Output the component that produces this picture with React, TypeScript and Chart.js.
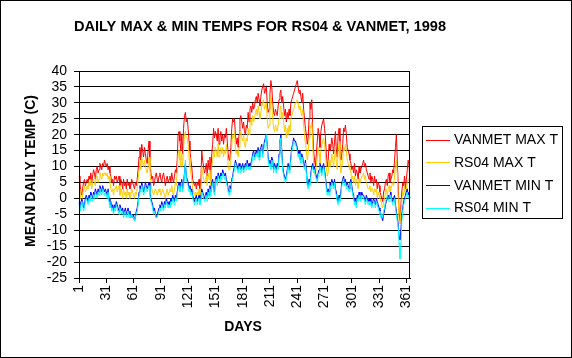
import { useEffect, useRef } from "react";
import { Chart, registerables } from "chart.js";

Chart.register(...registerables);

const TITLE = "DAILY MAX & MIN TEMPS FOR RS04 & VANMET, 1998";
const Y_TITLE = "MEAN DAILY TEMP (C)";
const X_TITLE = "DAYS";
const DAYS: string[] = Array.from({ length: 365 }, (_, i) => String(i + 1));
const X_TICK_LABELS = ["1", "31", "61", "91", "121", "151", "181", "211", "241", "271", "301", "331", "361"];
const Y_MIN = -25;
const Y_MAX = 40;
const Y_STEP = 5;

const SERIES_NAMES = ["VANMET MAX T", "RS04 MAX T", "VANMET MIN T", "RS04 MIN T"];
const SERIES_COLORS = ["#FF0000", "#FFCC00", "#0000FF", "#00FFFF"];

const vanmetMax = [
  7, 5, 2, 1, 3, 5, 6, 4, 5, 6,
  5, 7, 6, 8, 5, 7, 9, 8, 6, 9,
  10, 8, 9, 11, 10, 9, 11, 10, 12, 11,
  10, 11, 9, 10, 8, 7, 5, 6, 4, 7,
  6, 7, 5, 6, 7, 4, 6, 5, 3, 6,
  4, 5, 3, 6, 4, 5, 3, 4, 6, 5,
  4, 3, 5, 4, 6, 9, 13, 16, 12, 17,
  15, 13, 16, 14, 12, 11, 15, 18, 12, 8,
  6, 7, 4, 5, 7, 8, 6, 5, 7, 8,
  6, 5, 7, 8, 6, 4, 6, 7, 5, 6,
  7, 5, 8, 6, 5, 7, 9, 8, 12, 20,
  21, 18, 15, 20, 14, 22, 26, 27, 24, 25,
  22, 18, 15, 12, 10, 6, 5, 4, 5, 3,
  5, 4, 6, 3, 5, 15, 12, 10, 8, 9,
  11, 7, 12, 9, 13, 6, 14, 17, 22, 19,
  21, 20, 18, 22, 17, 19, 21, 18, 20, 17,
  20, 19, 22, 18, 14, 12, 13, 16, 22, 25,
  24, 25, 20, 17, 19, 16, 20, 25, 26, 24,
  22, 24, 21, 20, 23, 22, 27, 24, 28, 29,
  27, 30, 28, 29, 31, 32, 30, 33, 31, 29,
  32, 34, 35, 36, 33, 34, 35, 30, 27, 28,
  33, 37, 35, 30, 27, 26, 28, 27, 26, 29,
  31, 33, 34, 30, 32, 29, 26, 28, 24, 27,
  25, 28, 26, 30, 31, 32, 33, 34, 35, 36,
  37, 35, 33, 34, 32, 30, 33, 28, 25, 22,
  20, 17, 19, 25, 30, 28, 31, 22, 15, 12,
  10, 14, 18, 22, 20, 16, 21, 23, 24, 25,
  22, 19, 14, 10, 12, 17, 15, 16, 19, 17,
  14, 18, 21, 15, 13, 20, 22, 18, 12, 14,
  17, 22, 21, 23, 20, 16, 15, 14, 12, 11,
  9, 10, 8, 11, 7, 9, 8, 6, 10, 8,
  9, 10, 11, 12, 10, 11, 9, 8, 7, 6,
  8, 5, 7, 6, 4, 7, 5, 6, 3, 5,
  4, 2, 1, 0, -1, 2, 3, 5, 6, 4,
  7, 8, 5, 6, 7, 9, 8, 12, 16, 20,
  12, 4, -5, -7, -2, 2, 5, 4, 7, 3,
  6, 9, 12, 10, 5,
];

const rs04Max = [
  3, 2, 0, -1, 1, 3, 4, 2, 3, 4,
  3, 5, 4, 6, 3, 5, 6, 5, 4, 7,
  7, 5, 6, 8, 7, 6, 8, 7, 8, 8,
  7, 8, 6, 7, 5, 3, 2, 3, 1, 3,
  3, 4, 2, 3, 4, 1, 3, 2, 0, 3,
  1, 2, 0, 3, 1, 2, 0, 1, 3, 2,
  1, 0, 2, 1, 3, 6, 9, 12, 9, 13,
  11, 10, 12, 10, 9, 8, 10, 13, 9, 5,
  3, 2, 1, 2, 3, 2, 1, 2, 3, 2,
  1, 2, 3, 2, 1, 0, 2, 3, 1, 2,
  3, 2, 4, 2, 1, 3, 5, 4, 8, 14,
  15, 12, 10, 14, 10, 16, 20, 21, 19, 19,
  17, 13, 10, 8, 6, 3, 2, 1, 2, 1,
  2, 1, 3, 1, 2, 10, 8, 6, 5, 6,
  7, 4, 8, 6, 9, 4, 10, 12, 15, 13,
  16, 15, 13, 17, 13, 15, 16, 14, 16, 13,
  15, 14, 17, 14, 10, 9, 10, 12, 17, 20,
  19, 21, 16, 14, 15, 13, 16, 20, 21, 19,
  18, 20, 17, 16, 19, 18, 22, 20, 24, 25,
  23, 26, 24, 25, 27, 28, 26, 29, 27, 25,
  27, 29, 30, 31, 28, 29, 30, 25, 22, 23,
  28, 32, 30, 25, 22, 21, 23, 22, 21, 23,
  25, 28, 29, 25, 27, 24, 21, 23, 19, 22,
  20, 23, 21, 25, 26, 27, 28, 29, 30, 30,
  31, 30, 28, 29, 27, 26, 28, 23, 20, 17,
  15, 12, 14, 19, 23, 22, 24, 17, 11, 8,
  7, 10, 13, 16, 14, 11, 15, 17, 18, 19,
  17, 14, 10, 7, 8, 12, 10, 11, 14, 12,
  10, 13, 16, 11, 9, 15, 17, 13, 8, 10,
  12, 16, 15, 17, 15, 12, 11, 10, 9, 8,
  6, 7, 5, 7, 4, 6, 5, 3, 6, 5,
  6, 7, 7, 8, 6, 7, 5, 4, 3, 3,
  4, 2, 3, 3, 1, 3, 2, 3, 0, 2,
  1, 0, -1, -2, -3, -1, 0, 2, 3, 1,
  3, 4, 2, 3, 4, 5, 4, 7, 10, 12,
  8, 0, -7, -8, -4, -1, 2, 1, 4, 1,
  3, 5, 6, 6, 2,
];

const vanmetMin = [
  -1, -3, -2, 0, -1, -3, -2, 0, 1, 0,
  -1, 1, 0, 2, 1, 0, 2, 1, 3, 2,
  1, 3, 2, 4, 3, 2, 4, 3, 2, 3,
  2, 1, 3, 0, -2, -1, -3, -2, -4, -2,
  -3, -1, -2, -3, -4, -2, -3, -4, -3, -5,
  -4, -3, -5, -4, -3, -5, -4, -6, -5, -6,
  -5, -7, -6, -4, -3, -1, 2, 4, 3, 5,
  4, 2, 3, 5, 4, 3, 4, 5, 2, 0,
  -1, -2, -4, -3, -5, -6, -5, -4, -3, -2,
  -3, -1, -2, -3, -1, -2, 0, -1, -2, -1,
  -2, 0, -1, 1, 0, -1, 1, 0, 2, 4,
  5, 3, 4, 6, 3, 5, 8, 11, 7, 6,
  5, 3, 4, 2, 3, 1, 0, -1, 0, 1,
  -1, 0, 1, -1, 0, 3, 2, 1, 0, 1,
  2, 0, 3, 1, 4, 2, 5, 6, 3, 2,
  6, 7, 5, 8, 7, 6, 8, 7, 9, 8,
  7, 8, 6, 5, 3, 2, 4, 3, 6, 7,
  9, 10, 12, 11, 10, 9, 11, 10, 9, 10,
  11, 9, 10, 11, 10, 12, 10, 11, 10, 11,
  12, 14, 15, 13, 14, 15, 14, 16, 13, 15,
  16, 17, 14, 16, 18, 19, 20, 17, 13, 11,
  12, 10, 13, 12, 9, 11, 10, 9, 11, 10,
  14, 18, 20, 15, 10, 8, 7, 6, 7, 9,
  11, 9, 10, 13, 16, 17, 19, 18, 18, 17,
  16, 14, 15, 13, 12, 14, 13, 11, 10, 12,
  9, 5, 4, 6, 5, 8, 10, 11, 9, 10,
  8, 7, 6, 8, 9, 11, 10, 8, 10, 11,
  9, 7, 4, 2, 3, 2, 5, 4, 6, 5,
  4, 6, 3, 2, 0, -1, 1, 0, 2, 5,
  6, 7, 5, 6, 4, 5, 4, 3, 5, 6,
  4, 2, 1, -1, 0, -2, 1, 0, 2, 1,
  0, 2, 1, 1, 0, -1, 1, 0, -1, 0,
  -1, 0, -2, -1, 0, -1, -2, 0, -1, -2,
  -3, -4, -5, -6, -7, -5, -4, -2, -1, 0,
  1, 0, 1, 2, 0, -1, 0, 1, -2, -4,
  -6, -8, -12, -13, -10, -5, -3, -1, 0, 1,
  2, 3, 1, 2, 0,
];

const rs04Min = [
  -2, -4, -3, -1, -2, -4, -3, -1, 0, -1,
  -2, 0, -1, 1, 0, -1, 1, 0, 2, 1,
  0, 2, 1, 3, 2, 1, 3, 2, 1, 2,
  1, 0, 2, -1, -3, -2, -4, -3, -5, -3,
  -4, -2, -3, -4, -5, -3, -4, -5, -4, -6,
  -5, -4, -6, -5, -4, -6, -5, -6, -5, -6,
  -6, -7, -6, -5, -4, -2, 1, 3, 2, 4,
  3, 1, 2, 4, 3, 2, 3, 4, 1, -1,
  -2, -3, -5, -4, -5, -6, -6, -5, -4, -3,
  -4, -2, -3, -4, -2, -3, -1, -2, -3, -2,
  -3, -1, -2, 0, -1, -2, 0, -1, 1, 3,
  4, 2, 3, 5, 2, 4, 7, 12, 6, 5,
  4, 2, 3, 1, 2, 0, -1, -2, -1, 0,
  -2, -1, 0, -2, -1, 2, 1, 0, -1, 0,
  1, -1, 2, 0, 3, 1, 4, 5, 2, 1,
  5, 6, 4, 7, 6, 5, 7, 6, 8, 7,
  6, 7, 5, 4, 2, 1, 3, 2, 5, 6,
  8, 9, 11, 10, 9, 8, 10, 9, 8, 9,
  10, 8, 9, 10, 9, 11, 9, 10, 9, 10,
  11, 13, 14, 12, 13, 14, 13, 15, 12, 14,
  15, 16, 13, 15, 17, 18, 20, 16, 12, 10,
  11, 9, 12, 11, 8, 10, 9, 8, 10, 9,
  13, 17, 19, 14, 9, 7, 6, 5, 6, 8,
  10, 8, 9, 12, 15, 16, 18, 17, 17, 16,
  15, 13, 14, 12, 11, 13, 12, 10, 9, 11,
  8, 4, 3, 5, 4, 7, 9, 10, 8, 9,
  7, 6, 5, 7, 8, 10, 9, 7, 9, 10,
  8, 6, 3, 1, 2, 1, 4, 3, 5, 4,
  3, 5, 2, 1, -1, -2, 0, -1, 1, 4,
  5, 6, 4, 5, 3, 4, 3, 2, 4, 5,
  3, 1, 0, -2, -1, -3, 0, -1, 1, 0,
  -1, 1, 0, 0, -1, -2, 0, -1, -2, -1,
  -2, -1, -3, -2, -1, -2, -3, -1, -2, -3,
  -4, -5, -6, -5, -6, -4, -3, -1, 0, 1,
  0, -1, 0, 1, -1, -2, -1, 0, -3, -5,
  -7, -9, -14, -19, -15, -7, -4, -2, -1, 0,
  1, 2, 0, 1, -1,
];

const SERIES_DATA = [vanmetMax, rs04Max, vanmetMin, rs04Min];

const FONT = "'Liberation Sans', Arial, sans-serif";

const decorPlugin = {
  id: "decor",
  beforeDraw(chart: any) {
    const ctx = chart.ctx;
    ctx.save();
    ctx.fillStyle = "#ffffff";
    ctx.fillRect(0, 0, chart.width, chart.height);
    ctx.restore();
  },
  afterDraw(chart: any) {
    const ctx = chart.ctx;
    const a = chart.chartArea;
    ctx.save();
    ctx.strokeStyle = "#000000";
    ctx.lineWidth = 1;
    ctx.strokeRect(Math.round(a.left) + 0.5, Math.round(a.top) + 0.5, Math.round(a.right - a.left) - 1, Math.round(a.bottom - a.top));
    ctx.strokeRect(0.5, 0.5, chart.width - 1, chart.height - 1);

    ctx.fillStyle = "#000000";
    ctx.textAlign = "center";
    ctx.textBaseline = "middle";
    ctx.font = `bold 14.6px ${FONT}`;
    ctx.fillText(TITLE, 260, 27);
    ctx.font = `bold 14px ${FONT}`;
    ctx.fillText(X_TITLE, 243, 327);
    ctx.save();
    ctx.translate(31, 171);
    ctx.rotate(-Math.PI / 2);
    ctx.fillText(Y_TITLE, 0, 0);
    ctx.restore();

    const lx = 422, ly = 126, lw = 140, lh = 92;
    ctx.strokeRect(lx + 0.5, ly + 0.5, lw, lh);
    ctx.font = `14px ${FONT}`;
    ctx.textAlign = "left";
    SERIES_NAMES.forEach((name, i) => {
      const y = ly + 13.5 + i * 22.7;
      ctx.strokeStyle = SERIES_COLORS[i];
      ctx.beginPath();
      ctx.moveTo(lx + 4, Math.round(y) + 0.5);
      ctx.lineTo(lx + 28, Math.round(y) + 0.5);
      ctx.stroke();
      ctx.fillStyle = "#000000";
      ctx.fillText(name, lx + 32, y + 1);
    });
    ctx.restore();
  },
};

export default function App() {
  const ref = useRef<HTMLCanvasElement | null>(null);
  useEffect(() => {
    if (!ref.current) return;
    const chart = new Chart(ref.current, {
      type: "line",
      data: {
        labels: DAYS,
        datasets: SERIES_NAMES.map((name, i) => ({
          label: name,
          data: SERIES_DATA[i],
          borderColor: SERIES_COLORS[i],
          backgroundColor: SERIES_COLORS[i],
          borderWidth: 1,
          pointRadius: 0,
          tension: 0,
          fill: false,
          order: 4 - i,
        })),
      },
      options: {
        animation: false,
        responsive: false,
        devicePixelRatio: 1,
        layout: { padding: { left: 0, top: 71, right: 162, bottom: 0 } },
        plugins: {
          legend: { display: false },
          title: { display: false },
          tooltip: { enabled: false },
        },
        scales: {
          x: {
            type: "category",
            offset: false,
            afterFit: (s: any) => {
              s.height = 80;
            },
            grid: {
              drawOnChartArea: false,
              drawTicks: true,
              tickLength: 5,
              color: "#000000",
            },
            border: { display: true, color: "#000000" },
            ticks: {
              autoSkip: false,
              maxRotation: 90,
              minRotation: 90,
              padding: 2,
              color: "#000000",
              font: { family: FONT, size: 14 },
              callback: (_v: any, idx: number) => {
                const lab = DAYS[idx];
                return X_TICK_LABELS.includes(lab) ? lab : null;
              },
            },
          },
          y: {
            min: Y_MIN,
            max: Y_MAX,
            afterFit: (s: any) => {
              s.width = 79;
            },
            grid: {
              color: "#000000",
              drawTicks: true,
              tickLength: 5,
            },
            border: { display: true, color: "#000000" },
            ticks: {
              stepSize: Y_STEP,
              autoSkip: false,
              padding: 7,
              color: "#000000",
              font: { family: FONT, size: 14 },
            },
          },
        },
      },
      plugins: [decorPlugin],
    } as any);
    return () => chart.destroy();
  }, []);
  return (
    <div style={{ position: "fixed", left: 0, top: 0, width: 572, height: 358, background: "#fff" }}>
      <canvas ref={ref} width={572} height={358} style={{ width: 572, height: 358, display: "block" }} />
    </div>
  );
}
